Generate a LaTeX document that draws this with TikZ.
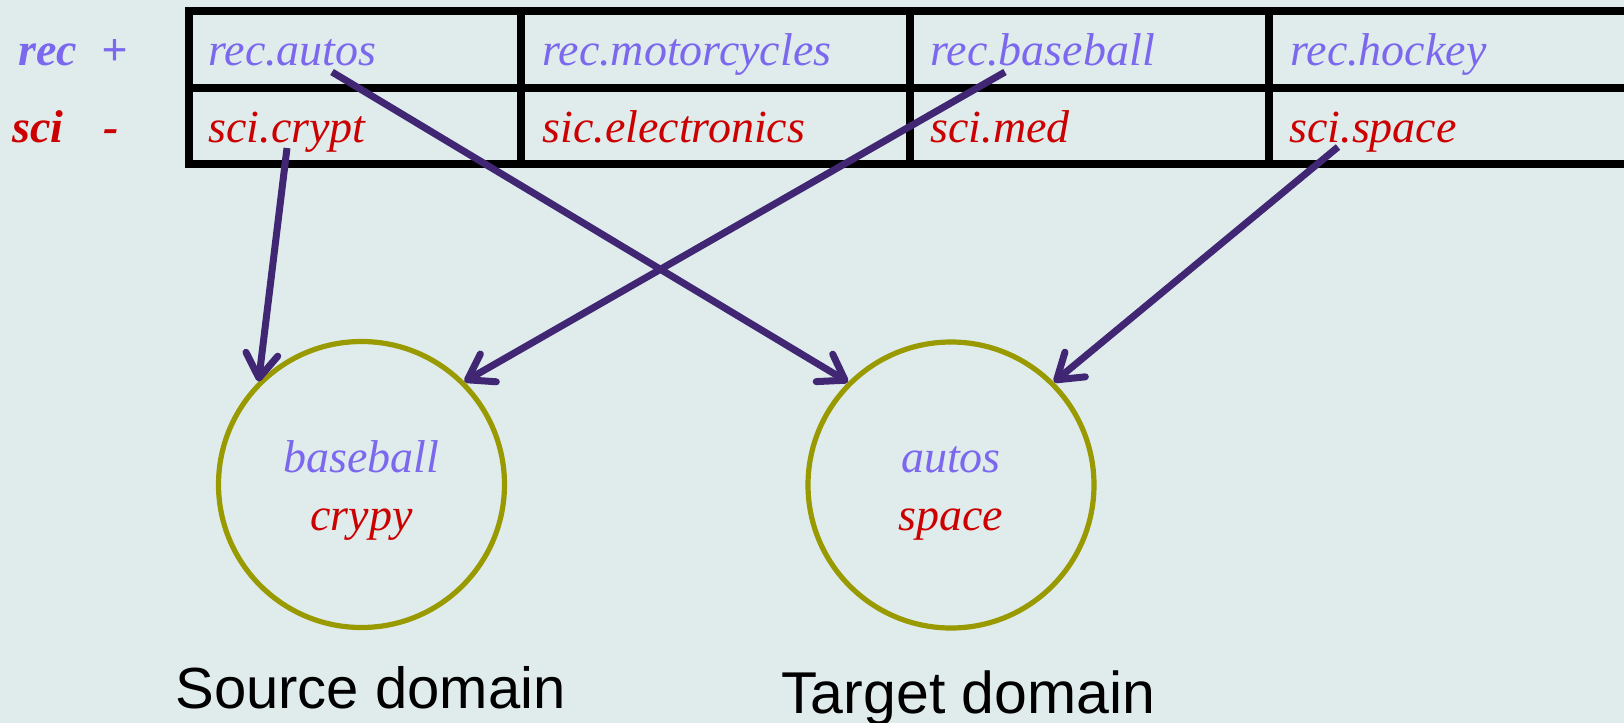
\documentclass[tikz,border=0pt]{standalone}
\usepackage{fontspec}
\setmainfont{Liberation Serif}
\newfontfamily\domainfont{Liberation Sans}
\usetikzlibrary{arrows.meta,calc}
\definecolor{slidebg}{RGB}{224,236,236}
\definecolor{recblue}{RGB}{123,104,238}
\definecolor{scired}{RGB}{204,0,0}
\definecolor{ringline}{RGB}{153,153,0}
\definecolor{linkline}{RGB}{65,38,115}

\begin{document}
\begin{tikzpicture}[
  x=0.5pt, y=-0.5pt,
  tabline/.style={draw=black, line width=4pt},
  cell/.style={anchor=base west, inner sep=0pt,
               font=\fontsize{23}{29}\selectfont\itshape},
  cellrec/.style={cell, text=recblue},
  cellsci/.style={cell, text=scired},
  rowlbl/.style={cell, font=\fontsize{23}{29}\selectfont\bfseries\itshape},
  ring/.style={circle, draw=ringline, line width=2.6pt, minimum size=143pt,
               inner sep=0pt, align=center,
               font=\fontsize{23}{29}\selectfont\itshape},
  domname/.style={anchor=base west, inner sep=0pt,
                  font=\domainfont\fontsize{29}{35}\selectfont},
  link/.style={draw=linkline, line width=3.5pt,
               -{Straight Barb[length=12pt, width=16pt, round]}}
]
\useasboundingbox (0,0) rectangle (1624,723);
\clip (0,0) rectangle (1624,723);
\fill[slidebg] (0,0) rectangle (1624,723);

% ---- table
\draw[tabline] (189,11) rectangle (1660,164);
\draw[tabline] (189,88) -- (1660,88);
\foreach \x in {521,910,1269}
  \draw[tabline] (\x,11) -- (\x,164);

\node[rowlbl, text=recblue] (reclbl) at (18,65) {rec\hspace{12pt}+};
\node[rowlbl, text=scired] (scilbl) at (12,142) {sci\hspace{20pt}-};

\node[cellrec] (autos)  at (208,65)  {rec.autos};
\node[cellrec] (moto)   at (542,65)  {rec.motorcycles};
\node[cellrec] (baseb)  at (930,65)  {rec.baseball};
\node[cellrec] (hockey) at (1290,65) {rec.hockey};
\node[cellsci] (crypt)  at (208,142) {sci.crypt};
\node[cellsci] (elec)   at (542,142) {sic.electronics};
\node[cellsci] (med)    at (930,142) {sci.med};
\node[cellsci] (space)  at (1289,142) {sci.space};

% ---- domains
\node[ring] (src) at (361.5,484.5)
  {\rule{0pt}{21.5pt}\textcolor{recblue}{baseball}\\ \textcolor{scired}{crypy}};
\node[ring] (tgt) at (951,485)
  {\rule{0pt}{21.5pt}\textcolor{recblue}{autos}\\ \textcolor{scired}{space}};

\node[domname] (srcname) at (175,708) {Source domain};
\node[domname] (tgtname) at (781,713) {\fontsize{29.5}{35}\selectfont Target domain};

% ---- links
\draw[link] ($(crypt.base west)+(79,6)$) -- (src.135);
\draw[link] ($(autos.base west)+(124,7)$) -- (tgt.135);
\draw[link] ($(baseb.base west)+(75,7)$) -- (src.45);
\draw[link] ($(space.base west)+(49,5)$) -- (tgt.45);
\end{tikzpicture}
\end{document}
